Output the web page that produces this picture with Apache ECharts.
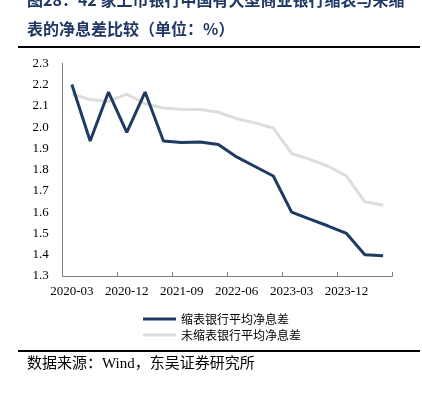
<!DOCTYPE html>
<html><head><meta charset="utf-8">
<script src="https://cdn.jsdelivr.net/npm/echarts@6/dist/echarts.min.js"></script>
<style>html,body{margin:0;padding:0;background:#fff}#c{width:422px;height:394px}</style>
</head><body><div id="c"></div>
<script>
const categories = ['2020-03','2020-06','2020-09','2020-12','2021-03','2021-06','2021-09','2021-12','2022-03','2022-06','2022-09','2022-12','2023-03','2023-06','2023-09','2023-12','2024-03','2024-06'];
const shrinkNIM = [2.20,1.935,2.165,1.975,2.165,1.935,1.928,1.93,1.918,1.86,1.815,1.77,1.60,1.567,1.535,1.50,1.40,1.395];
const nonShrinkNIM = [2.155,2.13,2.12,2.155,2.11,2.09,2.084,2.083,2.07,2.04,2.02,1.996,1.876,1.848,1.816,1.77,1.649,1.633];
const seriesNames = ['缩表银行平均净息差','未缩表银行平均净息差'];
const titleLines = ['图28：42 家上市银行中国有大型商业银行缩表与未缩','表的净息差比较（单位：%）'];
const sourceText = '数据来源：Wind，东吴证券研究所';

const chart = echarts.init(document.getElementById('c'));
chart.setOption({
  animation:false,
  backgroundColor:'#fff',
  grid:{left:62.7,right:29.7,top:63.3,bottom:118,containLabel:false},
  legend:{
    orient:'vertical',left:138,top:308,itemWidth:33,itemHeight:3,itemGap:4,
    icon:'rect',
    textStyle:{fontFamily:'Noto Sans CJK SC',fontSize:12,color:'#000'},
    data:seriesNames
  },
  xAxis:{
    type:'category',data:categories,boundaryGap:true,
    axisLine:{lineStyle:{color:'#7f7f7f',width:1}},
    axisTick:{show:true,inside:true,length:4,lineStyle:{color:'#7f7f7f'}},
    axisLabel:{interval:2,margin:9,fontFamily:'Liberation Serif',fontSize:13,color:'#000'}
  },
  yAxis:{
    type:'value',min:1.3,max:2.3,interval:0.1,
    splitLine:{show:false},
    axisLine:{show:true,lineStyle:{color:'#7f7f7f',width:1}},
    axisTick:{show:false},
    axisLabel:{margin:14,fontFamily:'Liberation Serif',fontSize:13,color:'#000',formatter:v=>v.toFixed(1)}
  },
  series:[
    {name:seriesNames[0],type:'line',data:shrinkNIM,symbol:'none',lineStyle:{color:'#1f3a63',width:3},itemStyle:{color:'#1f3a63'},z:3},
    {name:seriesNames[1],type:'line',data:nonShrinkNIM,symbol:'none',lineStyle:{color:'#dddddd',width:3},itemStyle:{color:'#dddddd'},z:2}
  ],
  graphic:[
    {type:'text',left:27,top:-8,style:{text:titleLines[0],font:'bold 16px "Noto Sans CJK SC"',fill:'#1f3864'}},
    {type:'text',left:27,top:21,style:{text:titleLines[1],font:'bold 16px "Noto Sans CJK SC"',fill:'#1f3864'}},
    {type:'rect',shape:{x:18,y:46,width:402,height:2},style:{fill:'#000'}},
    {type:'rect',shape:{x:18,y:350,width:402,height:2},style:{fill:'#000'}},
    {type:'text',left:27,top:357,style:{text:sourceText,font:'15px "Liberation Serif","Noto Sans CJK SC"',fill:'#000'}}
  ]
});
</script></body></html>
